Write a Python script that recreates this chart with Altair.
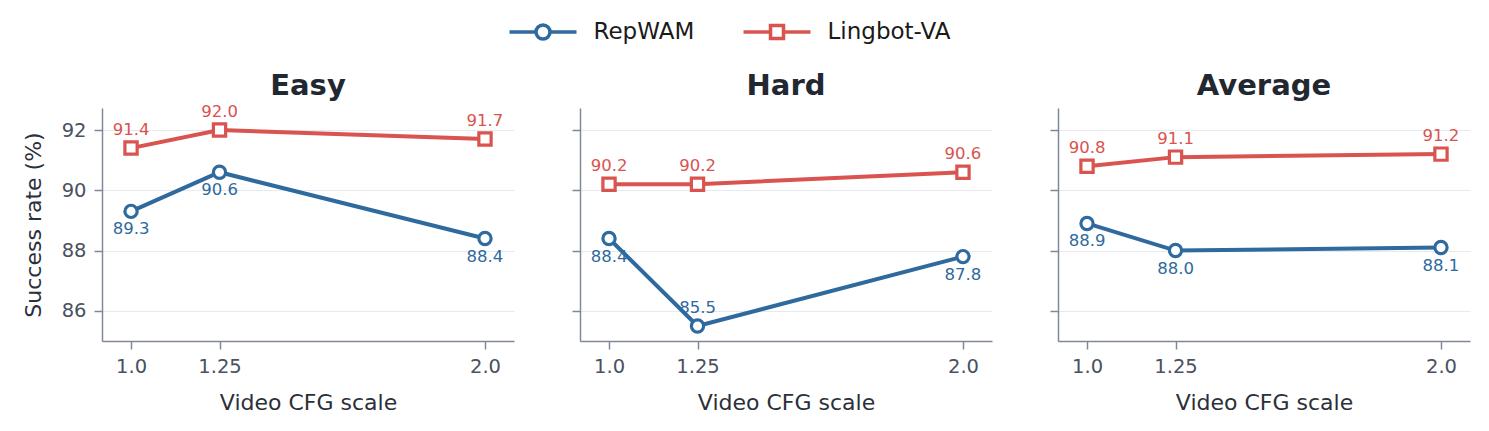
import altair as alt
import pandas as pd

# x positions (video CFG scale) shared by every panel
cfg_scales = [1.0, 1.25, 2.0]
panel_names = ["Easy", "Hard", "Average"]
series_names = ["RepWAM", "Lingbot-VA"]
series_colors = ["#2e6a9e", "#d9534f"]

# success rate (%) per panel
repwam_easy = [89.3, 90.6, 88.4]
repwam_hard = [88.4, 85.5, 87.8]
repwam_avg = [88.9, 88.0, 88.1]
lingbot_easy = [91.4, 92.0, 91.7]
lingbot_hard = [90.2, 90.2, 90.6]
lingbot_avg = [90.8, 91.1, 91.2]

# side of the marker where each value label is written
repwam_side_easy = ["below", "below", "below"]
repwam_side_hard = ["below", "above", "below"]
repwam_side_avg = ["below", "below", "below"]
lingbot_side = ["above", "above", "above"]

y_ticks = [86, 88, 90, 92]

FONT = "DejaVu Sans"

rows = []
series_table = {
    "Easy": [(repwam_easy, repwam_side_easy), (lingbot_easy, lingbot_side)],
    "Hard": [(repwam_hard, repwam_side_hard), (lingbot_hard, lingbot_side)],
    "Average": [(repwam_avg, repwam_side_avg), (lingbot_avg, lingbot_side)],
}
for panel in panel_names:
    for name, (vals, sides) in zip(series_names, series_table[panel]):
        for s, v, side in zip(cfg_scales, vals, sides):
            rows.append({"panel": panel, "series": name, "cfg": s,
                         "rate": v, "side": side})
df = pd.DataFrame(rows)

# legend glyphs: a short line with the open marker in the middle
circle_glyph = ("M -3.35 0 L -0.7 0 M 0.7 0 L 3.35 0 "
                "M 0.7 0 A 0.7 0.7 0 1 1 -0.7 0 A 0.7 0.7 0 1 1 0.7 0 Z")
square_glyph = ("M -3.35 0 L -0.65 0 M 0.65 0 L 3.35 0 "
                "M -0.65 -0.65 L 0.65 -0.65 L 0.65 0.65 L -0.65 0.65 Z")

rep_color, ling_color = series_colors

color_scale = alt.Scale(domain=series_names, range=series_colors)
# marker scales, each carrying one legend entry
rep_fill_scale = alt.Scale(domain=["RepWAM"], range=["white"])
ling_stroke_scale = alt.Scale(domain=series_names[::-1], range=series_colors[::-1])

legend_common = dict(
    orient="none",
    direction="horizontal",
    title=None,
    labelFontSize=23,
    labelFont=FONT,
    labelColor="#1a1a1a",
    symbolSize=400,
    symbolStrokeWidth=3.5,
    symbolFillColor="white",
    labelOffset=38.5,
)
legend_rep = alt.Legend(symbolType=circle_glyph, symbolStrokeColor=rep_color,
                        legendX=429, legendY=-88, **legend_common)
legend_ling = alt.Legend(values=["Lingbot-VA"], symbolType=square_glyph,
                         legendX=663, legendY=-88, **legend_common)

# the Easy panel's top value label reaches above the plot, so its title
# needs a smaller gap to line up with the other two
title_offsets = {"Easy": 3, "Hard": 7, "Average": 7}


def make_panel(name, first):
    data = df[df["panel"] == name]
    base = alt.Chart(data)

    x = alt.X(
        "cfg:Q",
        scale=alt.Scale(domain=[0.918, 2.082], nice=False, zero=False),
        axis=alt.Axis(
            values=cfg_scales,
            labelExpr="datum.value == 1.25 ? '1.25' : format(datum.value, '.1f')",
            title="Video CFG scale",
            grid=False,
            titlePadding=17,
        ),
    )
    y_axis_args = dict(values=y_ticks, grid=True, labels=first, titlePadding=16)
    if first:
        y_axis_args["title"] = "Success rate (%)"
    else:
        y_axis_args["title"] = None
    y = alt.Y(
        "rate:Q",
        scale=alt.Scale(domain=[85.0, 92.73], nice=False, zero=False),
        axis=alt.Axis(**y_axis_args),
    )

    line = base.mark_line(strokeWidth=4).encode(
        x=x, y=y,
        color=alt.Color("series:N", scale=color_scale, legend=None),
        detail="series:N",
    )
    # open circles for RepWAM
    rep_points = base.transform_filter(alt.datum.series == "RepWAM").mark_point(
        filled=True, shape="circle", size=150, stroke=rep_color,
        strokeWidth=3.2, opacity=1,
    ).encode(
        x=x, y=y,
        fill=alt.Fill("series:N", scale=rep_fill_scale, legend=legend_rep),
    )
    # open squares for Lingbot-VA
    ling_points = base.transform_filter(alt.datum.series == "Lingbot-VA").mark_point(
        filled=True, fill="white", shape="square", size=150,
        strokeWidth=3.2, opacity=1,
    ).encode(
        x=x, y=y,
        stroke=alt.Stroke("series:N", scale=ling_stroke_scale, legend=legend_ling),
    )
    text_above = base.transform_filter(alt.datum.side == "above").mark_text(
        font=FONT, fontSize=16.5, dy=-18, baseline="middle", align="center"
    ).encode(
        x=x, y=y,
        text=alt.Text("rate:Q", format=".1f"),
        color=alt.Color("series:N", scale=color_scale, legend=None),
    )
    text_below = base.transform_filter(alt.datum.side == "below").mark_text(
        font=FONT, fontSize=16.5, dy=18, baseline="middle", align="center"
    ).encode(
        x=x, y=y,
        text=alt.Text("rate:Q", format=".1f"),
        color=alt.Color("series:N", scale=color_scale, legend=None),
    )
    return alt.layer(line, rep_points, ling_points, text_above, text_below).properties(
        width=412,
        height=233,
        title=alt.TitleParams(text=name, fontSize=29, fontWeight="bold",
                              color="#222831", font=FONT, anchor="middle",
                              frame="group", offset=title_offsets[name]),
    )


chart = alt.hconcat(
    *[make_panel(n, i == 0) for i, n in enumerate(panel_names)],
    spacing=57,
).properties(
    padding={"left": 22, "top": 20, "right": 10, "bottom": 10},
    background="white",
).configure_view(
    strokeWidth=0,
).configure_axis(
    labelFont=FONT,
    titleFont=FONT,
    labelFontSize=19.5,
    titleFontSize=22,
    titleFontWeight="normal",
    labelColor="#4a5160",
    titleColor="#2b303a",
    domainColor="#7f8898",
    tickColor="#7f8898",
    domainWidth=1.5,
    tickWidth=1.5,
    tickSize=8,
    labelPadding=8,
    gridColor="#e6e9f0",
    gridWidth=1.2,
)

chart.save("out.html", embed_options={"renderer": "svg", "actions": False})
